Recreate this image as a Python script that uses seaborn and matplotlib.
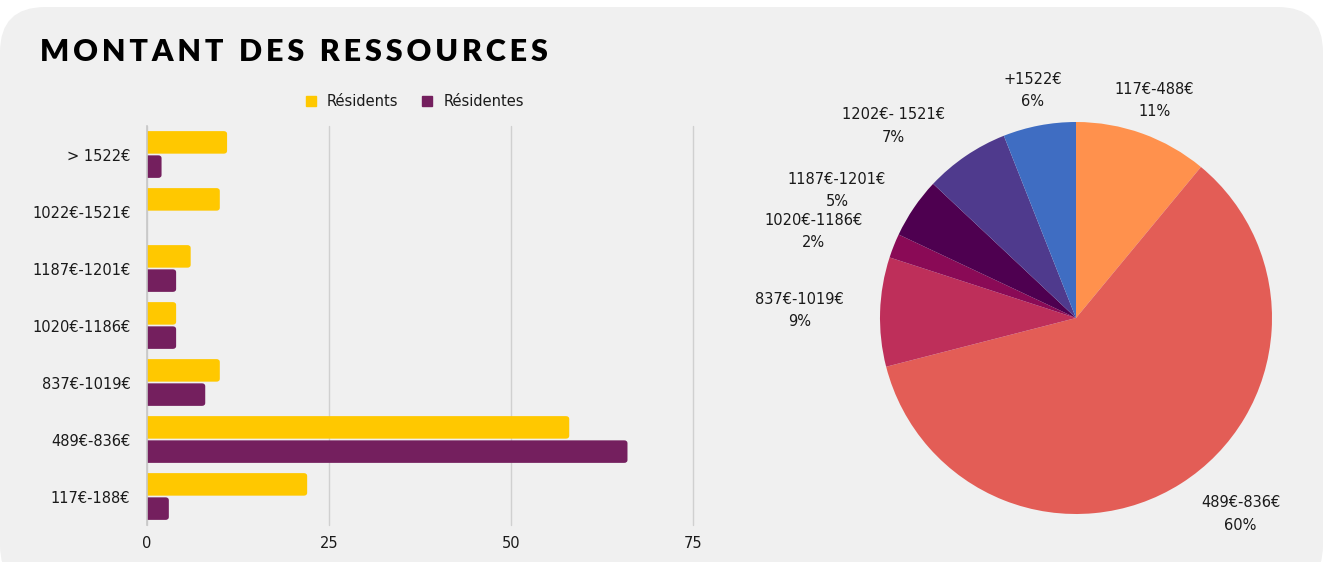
import matplotlib
matplotlib.use("Agg")
import pandas as pd
import seaborn as sns
import matplotlib.pyplot as plt
from matplotlib.patches import FancyBboxPatch
from matplotlib.lines import Line2D

# bar chart data
tranches = ["> 1522€", "1022€-1521€", "1187€-1201€", "1020€-1186€",
            "837€-1019€", "489€-836€", "117€-188€"]
residents = [11, 10, 6, 4, 10, 58, 22]
residentes = [2, 0, 4, 4, 8, 66, 3]
series = ["Résidents", "Résidentes"]

# pie chart data
pie_labels = ["117€-488€", "489€-836€", "837€-1019€", "1020€-1186€",
              "1187€-1201€", "1202€- 1521€", "+1522€"]
pie_pct = [11, 60, 9, 2, 5, 7, 6]

bar_colors = ["#FFC800", "#741F5E"]
pie_colors = ["#FF914D", "#E35D56", "#BE2F5A", "#8A0A56",
              "#4E0050", "#4F3A8D", "#3F6DC2"]

sns.set_style("white")
plt.rcParams['font.family'] = ['DejaVu Sans']
txt = "#1a1a1a"
fs = 10.5

fig = plt.figure(figsize=(13.26, 5.62), dpi=100)
fig.patch.set_facecolor("white")
bg = FancyBboxPatch((0.0, -0.05), 1323 / 1326, 1 - 7 / 562 + 0.05,
                    boxstyle="round,pad=0,rounding_size=0.034",
                    mutation_aspect=1326 / 562,
                    transform=fig.transFigure, facecolor="#F0F0F0",
                    edgecolor="none", zorder=-5)
fig.patches.append(bg)

title = "MONTANT DES RESSOURCES"
title_sp = "\u2009".join(title).replace("\u2009 \u2009", "\u2009\u2009\u2009\u2009")
fig.text(40 / 1326, 1 - 52 / 562, title_sp, family=["Lato", "DejaVu Sans"],
         fontsize=22, fontweight="heavy", color="black", va="center", ha="left")

# ---- horizontal bars
df = pd.DataFrame({
    "tranche": tranches * 2,
    "valeur": residents + residentes,
    "serie": [series[0]] * len(tranches) + [series[1]] * len(tranches),
})
ax = fig.add_axes([147 / 1326, 1 - 525 / 562, (693 - 147) / 1326, 399 / 562])
ax.set_facecolor("none")
sns.barplot(data=df, y="tranche", x="valeur", hue="serie", order=tranches,
            hue_order=series, palette=bar_colors, orient="h", width=0.85,
            gap=0.07, saturation=1, ax=ax, legend=False)

# rounded ends
rs = 0.45
ma = (3 / 57) / rs
for p in list(ax.patches):
    x0, y0 = p.get_x(), p.get_y()
    w, h = p.get_width(), p.get_height()
    if w > 0:
        fb = FancyBboxPatch((x0 - 2, y0), w + 2, h,
                            boxstyle=f"round,pad=0,rounding_size={rs}",
                            mutation_aspect=ma, facecolor=p.get_facecolor(),
                            edgecolor="none", zorder=2)
        ax.add_patch(fb)
    p.set_visible(False)

ax.set_xlim(0, 75)
ax.set_ylim(6.5, -0.5)
ax.set_xticks([0, 25, 50, 75])
ax.xaxis.grid(True, color="#D0D0D0", linewidth=1)
for gl in ax.get_xgridlines():
    gl.set_clip_on(False)
ax.set_axisbelow(True)
for s in ["top", "right", "bottom"]:
    ax.spines[s].set_visible(False)
ax.spines["left"].set_color("#C8C8C8")
ax.spines["left"].set_linewidth(1.2)
ax.spines["left"].set_zorder(3)
ax.tick_params(axis="both", length=0, labelsize=fs, colors=txt)
ax.tick_params(axis="y", pad=12)
ax.tick_params(axis="x", pad=8)
ax.set_xlabel("")
ax.set_ylabel("")

handles = [Line2D([], [], marker="s", linestyle="none", markersize=7,
                  markerfacecolor=c, markeredgecolor=c) for c in bar_colors]
fig.legend(handles, series, loc="center", bbox_to_anchor=(410 / 1326, 1 - 102 / 562),
           ncol=2, frameon=False, fontsize=fs, handletextpad=0.1,
           columnspacing=1.0, labelcolor=txt)

# ---- pie
L = 1.25
r_px = 196
half = L * r_px
pax = fig.add_axes([(1076 - half) / 1326, 1 - (318 + half) / 562,
                    2 * half / 1326, 2 * half / 562])
pax.set_facecolor("none")
pax.pie(pie_pct, colors=pie_colors, startangle=90, counterclock=False,
        wedgeprops=dict(linewidth=0))
pax.set_xlim(-L, L)
pax.set_ylim(-L, L)
pax.axis("off")

label_xy = [(0.40, 1.11), (0.84, -1.00), (-1.41, 0.04), (-1.34, 0.44),
            (-1.22, 0.65), (-0.93, 0.98), (-0.22, 1.16)]
for lab, pct, (lx, ly) in zip(pie_labels, pie_pct, label_xy):
    pax.text(lx, ly, f"{lab}\n{pct}%", ha="center", va="center",
             fontsize=fs, color=txt, linespacing=1.6)

fig.savefig("out.png", dpi=100, facecolor=fig.get_facecolor())
